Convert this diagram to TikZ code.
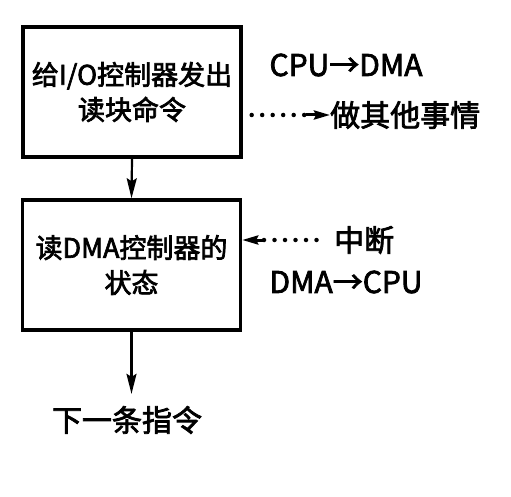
\documentclass[tikz,border=0pt]{standalone}
\usepackage{fontspec}
\setmainfont{Noto Sans CJK SC}[FakeBold=2.5]
\usetikzlibrary{arrows.meta}
\begin{document}
\begin{tikzpicture}[x=1pt,y=-1pt,
  box/.style={draw, line width=3.4pt, minimum width=218pt, minimum height=130pt, align=center, inner sep=0pt, font=\fontsize{27}{35}\selectfont},
  lbl/.style={inner sep=0pt, font=\fontsize{30}{33}\selectfont},
  arr/.style={line width=2.2pt, -{Stealth[length=20pt,width=10pt,inset=3pt]}},
  arrs/.style={line width=3pt, -{Stealth[length=16pt,width=9pt,inset=2pt]}},
  dotl/.style={line width=4.5pt, line cap=round, dash pattern=on 0pt off 10.5pt}]
\useasboundingbox (0,0) rectangle (511,497);
\node[box] (b1) at (132,92) {给I/O控制器发出\\读块命令};
\node[box] (b2) at (131.5,265) {读DMA控制器的\\状态};
\node[lbl] (next) at (127,420) {下一条指令};
\node[lbl] (c2d) at (346,65) {CPU→DMA};
\node[lbl, anchor=west] (other) at (330,115) {做其他事情};
\node[lbl, anchor=west] (intr) at (334,240) {中断};
\node[lbl] (d2c) at (346,282) {DMA→CPU};
\coordinate (m1) at (306,115);
\coordinate (m2) at (264,240);
\draw[arr] (b1.south) -- (b2.north);
\draw[arr] (b2.south) -- ([yshift=12pt]b2.south |- next.north);
\draw[dotl, shorten <=9pt] (b1.east |- other.west) -- (m1);
\draw[arrs] (m1) -- (other.west);
\draw[dotl, shorten >=9pt] (m2) -- (intr.west);
\draw[arrs] (m2) -- (m2 -| b2.east);
\end{tikzpicture}
\end{document}
